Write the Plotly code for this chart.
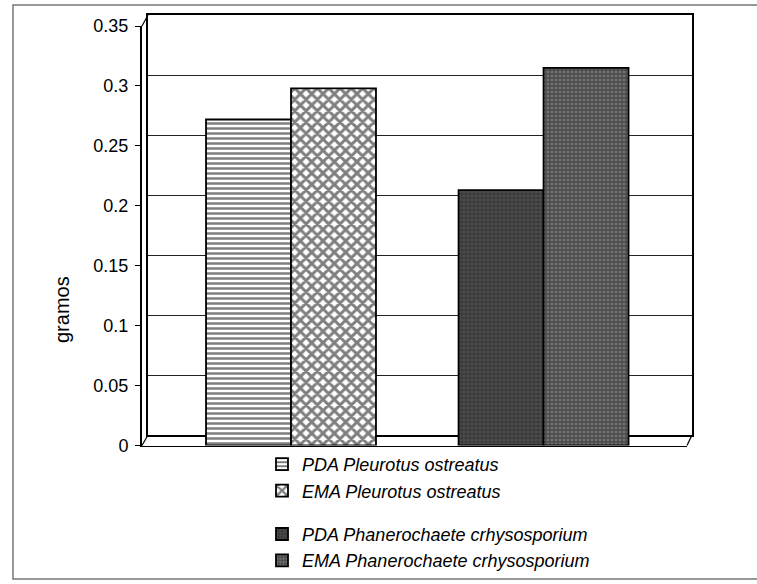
import plotly.graph_objects as go

# ---- data ----
categories = ["Pleurotus ostreatus", "Phanerochaete crhysosporium"]
series_names = [
    "PDA Pleurotus ostreatus",
    "EMA Pleurotus ostreatus",
    "PDA Phanerochaete crhysosporium",
    "EMA Phanerochaete crhysosporium",
]
pda_pleurotus = [0.272, None]
ema_pleurotus = [0.298, None]
pda_phanero = [None, 0.213]
ema_phanero = [None, 0.315]
tick_values = [0, 0.05, 0.1, 0.15, 0.2, 0.25, 0.3, 0.35]
tick_labels = ["0", "0.05", "0.1", "0.15", "0.2", "0.25", "0.3", "0.35"]
y_title = "gramos"

W, H = 757, 584
FONT = "Liberation Sans, Arial, sans-serif"


def px_x(v):
    return v / W


def px_y(v):
    return 1 - v / H


fig = go.Figure()

# empty trace so the back-wall subplot (gridlines) is drawn
fig.add_trace(go.Scatter(x=[], y=[], xaxis="x", yaxis="y", showlegend=False,
                         hoverinfo="skip", mode="lines"))

styles = [
    dict(shape="-", fg="black", bg="white", size=5, sol=0.5, grp="g1", off="a"),
    dict(shape="x", fg="black", bg="white", size=8, sol=0.6, grp="g1", off="b"),
    dict(shape="+", fg="#8a8a8a", bg="#383838", size=4, sol=0.25, grp="g2", off="a"),
    dict(shape=".", fg="#9a9a9a", bg="#4e4e4e", size=4, sol=0.35, grp="g2", off="b"),
]
values = [pda_pleurotus, ema_pleurotus, pda_phanero, ema_phanero]

for name, vals, st in zip(series_names, values, styles):
    fig.add_trace(go.Bar(
        x=categories, y=vals, name=name,
        xaxis="x2", yaxis="y2",
        offsetgroup=st["off"], legendgroup=st["grp"],
        marker=dict(
            color=st["bg"],
            line=dict(color="black", width=1.8),
            pattern=dict(shape=st["shape"], fgcolor=st["fg"], bgcolor=st["bg"],
                         size=st["size"], solidity=st["sol"], fillmode="overlay"),
        ),
    ))

axis_font = dict(family=FONT, size=18, color="black")

fig.update_layout(
    template="none",
    width=W, height=H,
    margin=dict(l=0, r=0, t=0, b=0),
    paper_bgcolor="white",
    plot_bgcolor="rgba(0,0,0,0)",
    barmode="group", bargap=0.327, bargroupgap=0,
    showlegend=True,
    legend=dict(
        x=px_x(262), y=px_y(446), xanchor="left", yanchor="top",
        orientation="v", traceorder="grouped", tracegroupgap=17,
        font=dict(family=FONT, size=18, color="black", style="italic"),
        bgcolor="rgba(0,0,0,0)",
        itemwidth=30,
    ),
    # back wall
    xaxis=dict(domain=[px_x(148), px_x(692)], range=[0, 1], showgrid=False,
               zeroline=False, showticklabels=False, ticks="",
               showline=True, linecolor="black", linewidth=1.5, mirror=True,
               automargin=False),
    yaxis=dict(domain=[px_y(435), px_y(15)], range=[0, 0.35], tickvals=tick_values,
               showgrid=True, gridcolor="#222", gridwidth=1, zeroline=False,
               showticklabels=False, ticks="", showline=True, linecolor="black",
               linewidth=1.5, mirror=True, automargin=False),
    # front (bars)
    xaxis2=dict(domain=[px_x(142), px_x(687)], range=[-0.59, 1.568], anchor="y2",
                showgrid=False, zeroline=False, showticklabels=False, ticks="",
                showline=True, linecolor="black", linewidth=1.2, automargin=False),
    yaxis2=dict(domain=[px_y(445.5), px_y(26)], range=[0, 0.35], anchor="x2",
                tickvals=tick_values, ticktext=tick_labels,
                showgrid=False, zeroline=False, ticks="outside", ticklen=5,
                tickwidth=1.2, tickcolor="black", showline=True,
                linecolor="black", linewidth=2, tickfont=axis_font,
                ticklabelstandoff=3, automargin=False),
)

# y-axis title (placed as in the reference, left of the axis, below centre)
fig.add_annotation(text=y_title, x=px_x(62), y=px_y(310), xref="paper", yref="paper",
                   textangle=-90, showarrow=False, xanchor="center", yanchor="middle",
                   font=dict(family=FONT, size=20, color="black"))

# 3D frame connectors and outer border (decoration only)
decor = [
    ((142, 26), (148, 15)),
    ((142, 445.5), (148, 435)),
    ((687, 445.5), (692, 435)),
]
for (x0, y0), (x1, y1) in decor:
    fig.add_shape(type="line", xref="paper", yref="paper",
                  x0=px_x(x0), y0=px_y(y0), x1=px_x(x1), y1=px_y(y1),
                  line=dict(color="black", width=1.2))
fig.add_shape(type="rect", xref="paper", yref="paper",
              x0=px_x(13), y0=px_y(579), x1=px_x(770), y1=px_y(5),
              line=dict(color="#777", width=1.5), layer="below")

fig.write_html("out.html")
